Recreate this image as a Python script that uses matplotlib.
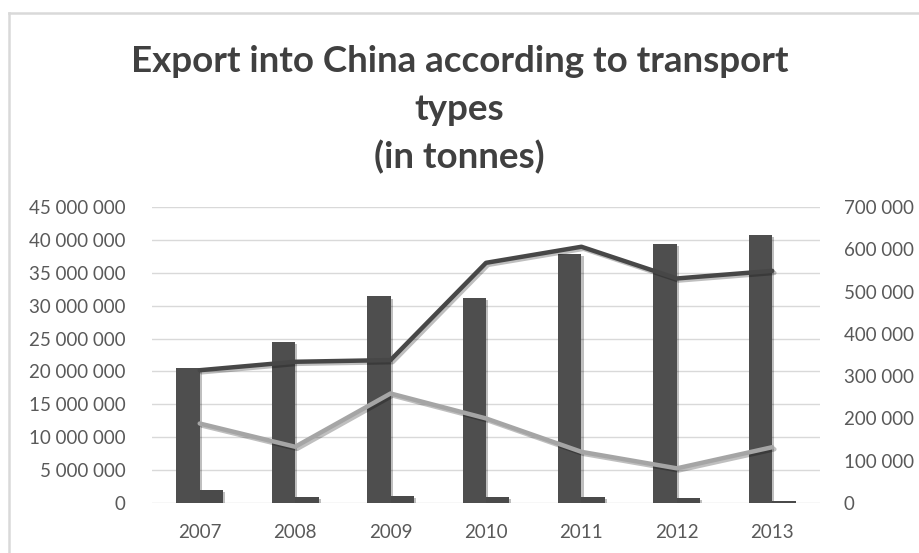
import matplotlib
matplotlib.use("Agg")
import matplotlib.pyplot as plt
import matplotlib.patheffects as pe
from matplotlib.lines import Line2D
from matplotlib.ticker import FuncFormatter, MultipleLocator
import numpy as np

years = ["2007", "2008", "2009", "2010", "2011", "2012", "2013"]
bars_main = [20500000, 24500000, 31400000, 31200000, 37900000, 39400000, 40800000]
bars_small = [2000000, 900000, 1050000, 850000, 850000, 750000, 350000]
line_dark = [314000, 334000, 338000, 568000, 606000, 531000, 549000]
line_light = [188000, 133000, 259000, 200000, 121000, 82000, 132000]

W, H = 919, 553
fig = plt.figure(figsize=(W / 100, H / 100), dpi=100)
fig.patch.set_facecolor("white")

TXT = "#595959"
FONT = "Lato"

ax = fig.add_axes([152 / W, 1 - 503 / H, (820 - 152) / W, (503 - 207) / H])
ax2 = ax.twinx()

x = np.arange(len(years))
bw = 0.245
shadow = [pe.SimplePatchShadow(offset=(1.5, -1.5), alpha=0.25, shadow_rgbFace="#000000"), pe.Normal()]
ax.bar(x - bw / 2, bars_main, width=bw, color="#4e4e4e", zorder=3, path_effects=shadow)
ax.bar(x + bw / 2, bars_small, width=bw, color="#4a4a4a", zorder=3, path_effects=shadow)

lshadow = [pe.SimpleLineShadow(offset=(1.5, -1.5), alpha=0.25), pe.Normal()]
ax2.plot(x, line_dark, color="#474747", lw=3.2, solid_capstyle="round", solid_joinstyle="round",
         zorder=4, path_effects=lshadow)
ax2.plot(x, line_light, color="#a5a5a5", lw=3.2, solid_capstyle="round", solid_joinstyle="round",
         zorder=4, path_effects=lshadow)

ax.set_xlim(-0.5, 6.5)
ax.set_ylim(0, 45000000)
ax2.set_ylim(0, 700000)
ax.yaxis.set_major_locator(MultipleLocator(5000000))
ax2.yaxis.set_major_locator(MultipleLocator(100000))

fmt = FuncFormatter(lambda v, p: f"{int(round(v)):,}".replace(",", " "))
ax.yaxis.set_major_formatter(fmt)
ax2.yaxis.set_major_formatter(fmt)

ax.set_xticks(x)
ax.set_xticklabels(years)
ax.grid(axis="y", color="#d9d9d9", lw=1, zorder=0)
ax.set_axisbelow(True)
for a in (ax, ax2):
    for s in a.spines.values():
        s.set_visible(False)
    a.tick_params(length=0, labelsize=13.5, labelcolor=TXT)
    for lab in a.get_xticklabels() + a.get_yticklabels():
        lab.set_fontfamily(FONT)
ax.tick_params(axis="y", pad=19)
ax.tick_params(axis="x", pad=15)
ax2.tick_params(axis="y", pad=17)
ax.set_zorder(1)
ax2.set_zorder(2)
ax2.patch.set_visible(False)

for txt, yc in [("Export into China according to transport", 62), ("types", 110), ("(in tonnes)", 157)]:
    fig.text(0.5, 1 - yc / H, txt, ha="center", va="center",
             fontsize=26.5, fontweight="bold", color="#404040", family=FONT)

# chart frame (left and top edges visible)
fig.add_artist(Line2D([9 / W, 9 / W], [0, 1 - 12.5 / H], transform=fig.transFigure, color="#d9d9d9", lw=1.8))
fig.add_artist(Line2D([9 / W, 918 / W], [1 - 12.5 / H, 1 - 12.5 / H], transform=fig.transFigure, color="#d9d9d9", lw=1.8))

fig.savefig("out.png", dpi=100, facecolor="white")
